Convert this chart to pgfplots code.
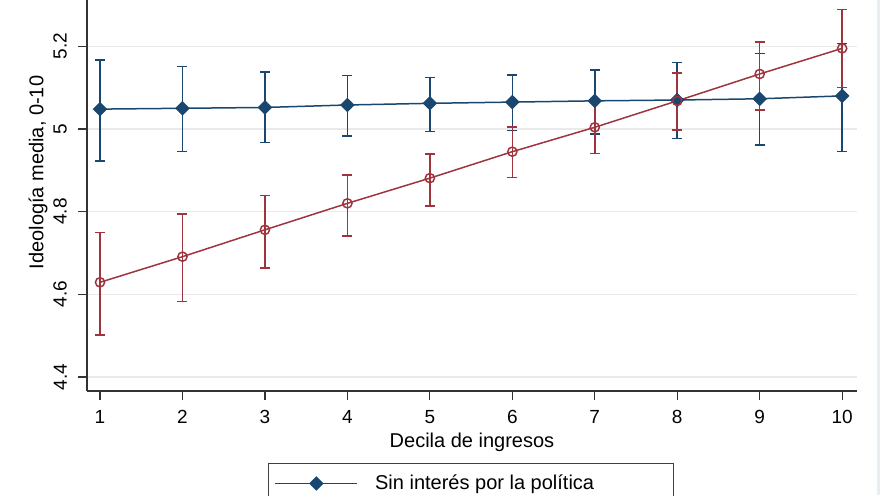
\documentclass[border=0pt]{standalone}
\usepackage{fontspec}
\setmainfont{Liberation Sans}
\usepackage{pgfplots}
\usepackage{pgfplotstable}
\pgfplotsset{compat=1.18}
\definecolor{stnavy}{RGB}{26,71,111}
\definecolor{stmaroon}{RGB}{158,52,62}
\definecolor{gridc}{RGB}{234,234,234}
\definecolor{strip}{RGB}{232,239,242}
\pgfplotstableread{
x y ep em
1 5.048 0.119 0.125
2 5.050 0.101 0.105
3 5.052 0.086 0.085
4 5.058 0.071 0.075
5 5.062 0.063 0.068
6 5.065 0.066 0.069
7 5.068 0.075 0.080
8 5.070 0.091 0.093
9 5.073 0.110 0.112
10 5.080 0.127 0.135
}\sininteres
\pgfplotstableread{
x y ep em
1 4.629 0.121 0.127
2 4.691 0.103 0.109
3 4.756 0.083 0.093
4 4.820 0.068 0.079
5 4.881 0.059 0.067
6 4.945 0.060 0.063
7 5.004 0.066 0.063
8 5.068 0.067 0.070
9 5.133 0.077 0.087
10 5.195 0.094 0.095
}\coninteres
\begin{document}
\fontsize{10pt}{12pt}\selectfont
\begin{tikzpicture}
\clip (-43.5pt,-52pt) rectangle (396.5pt,195.5pt);
\fill[strip] (394.8pt,-52pt) rectangle (396.5pt,195.5pt);
\begin{axis}[
  at={(0,0)}, anchor=south west,
  scale only axis, width=385pt, height=195.5pt,
  xmin=0.842, xmax=10.18, ymin=4.366, ymax=5.312,
  axis x line*=bottom, axis y line*=left,
  axis line style={-, black!80, line width=0.6pt},
  xtick={1,...,10}, ytick={4.4,4.6,4.8,5,5.2},
  tick align=outside, major tick length=4.5pt,
  tick style={black!80, line width=0.6pt},
  ymajorgrids, grid style={gridc, line width=0.7pt},
  /pgf/number format/assume math mode=true,
  ticklabel style={font=\fontsize{9.5pt}{11pt}\selectfont},
  xticklabel style={yshift=-1.5pt},
  yticklabel style={rotate=90, anchor=south, yshift=2pt},
  label style={font=\fontsize{10pt}{12pt}\selectfont},
  xlabel={Decila de ingresos},
  xlabel style={at={(axis description cs:0.5,0)}, anchor=base, yshift=-28pt},
  ylabel={Ideología media, 0-10},
  ylabel style={at={(axis description cs:-0.0565,0.5588)}, anchor=base},
  legend style={at={(0.2351,-0.1841)}, anchor=north west, draw=black!75, line width=0.6pt,
    fill=white, inner xsep=3pt, inner ysep=3.5pt, font=\fontsize{10pt}{12pt}\selectfont,
    nodes={inner sep=2pt},
    /tikz/every odd column/.append style={column sep=6.5pt}},
  legend cell align=left,
  legend image code/.code={\draw[mark repeat=2,mark phase=2,#1] plot coordinates {(0pt,0pt) (20.5pt,0pt) (41pt,0pt)};},
]
\addplot[stnavy, line width=0.75pt, mark=square*, mark size=2.2pt,
  mark options={rotate=45, fill=stnavy, solid},
  error bars/.cd, y dir=both, y explicit, error mark=-,
  error bar style={line width=0.75pt, stnavy},
  error mark options={rotate=90, mark size=2.5pt, line width=0.75pt, stnavy}]
  table[x=x, y=y, y error plus=ep, y error minus=em] {\sininteres};
\addlegendentry{\makebox[144pt][l]{Sin interés por la política}\rule[-24pt]{0pt}{0pt}}
\addplot[stmaroon, line width=0.75pt, mark=o, mark size=2.3pt,
  mark options={solid, line width=0.75pt},
  error bars/.cd, y dir=both, y explicit, error mark=-,
  error bar style={line width=0.75pt, stmaroon},
  error mark options={rotate=90, mark size=2.5pt, line width=0.75pt, stmaroon}]
  table[x=x, y=y, y error plus=ep, y error minus=em] {\coninteres};
\end{axis}
\end{tikzpicture}
\end{document}
